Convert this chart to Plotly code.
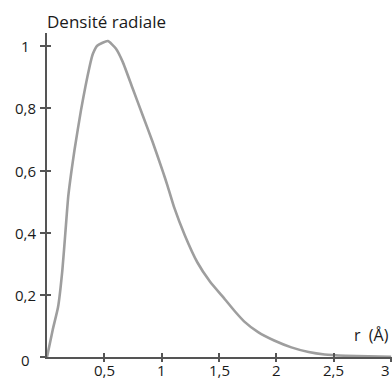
import plotly.graph_objects as go

# Data
r_vals = [0, 0.05, 0.096, 0.134, 0.16, 0.185, 0.21, 0.24, 0.296, 0.37, 0.40, 0.44, 0.53,
          0.60, 0.66, 0.746, 0.833, 0.92, 1.01, 1.05, 1.11, 1.20, 1.31, 1.42, 1.55, 1.635,
          1.72, 1.84, 1.98, 2.13, 2.28, 2.42, 2.6, 2.8, 3.0]
density = [0, 0.088, 0.16, 0.28, 0.40, 0.516, 0.59, 0.667, 0.794, 0.933, 0.976, 1.003, 1.017,
           0.993, 0.95, 0.865, 0.779, 0.693, 0.597, 0.552, 0.48, 0.393, 0.305, 0.243, 0.186, 0.148,
           0.114, 0.08, 0.053, 0.031, 0.016, 0.008, 0.004, 0.002, 0.001]

x_tickvals = [0.5, 1, 1.5, 2, 2.5, 3]
x_ticktext = ["0,5", "1", "1,5", "2", "2,5", "3"]
y_tickvals = [0, 0.2, 0.4, 0.6, 0.8, 1]
y_ticktext = ["0", "0,2", "0,4", "0,6", "0,8", "1"]

title_text = "Densité radiale"
x_label = "r  (Å)"

FONT = "Open Sans"
AXIS_COL = "#555555"
TXT = "#1a1a1a"
XR = [0, 3.007]
YR = [0, 1.043]

fig = go.Figure()
fig.add_trace(go.Scatter(x=r_vals, y=density, mode="lines",
                         line=dict(color="#9e9e9e", width=2.6, shape="spline", smoothing=0.5),
                         hoverinfo="skip", showlegend=False, cliponaxis=False))
# invisible trace for overlay axes (inner half of crossing ticks)
fig.add_trace(go.Scatter(x=[None], y=[None], xaxis="x2", yaxis="y2", showlegend=False,
                         hoverinfo="skip"))

fig.update_layout(
    width=392, height=379,
    margin=dict(l=47, r=0, t=33, b=22),
    paper_bgcolor="white", plot_bgcolor="white",
    font=dict(family=FONT, size=15, color=TXT),
    xaxis=dict(range=XR, showgrid=False, zeroline=False, showline=True, linecolor=AXIS_COL,
               linewidth=2, ticks="outside", ticklen=3, tickwidth=1.5, tickcolor=AXIS_COL,
               tickvals=x_tickvals, showticklabels=False, automargin=False, fixedrange=True),
    yaxis=dict(range=YR, showgrid=False, zeroline=False, showline=True, linecolor=AXIS_COL,
               linewidth=2, ticks="outside", ticklen=5, tickwidth=1.5, tickcolor=AXIS_COL,
               tickvals=y_tickvals, showticklabels=False, automargin=False, fixedrange=True),
    xaxis2=dict(range=XR, overlaying="x", anchor="y", showgrid=False, zeroline=False,
                showline=False, ticks="inside", ticklen=4, tickwidth=1.5, tickcolor=AXIS_COL,
                tickvals=x_tickvals, showticklabels=False, automargin=False, fixedrange=True),
    yaxis2=dict(range=YR, overlaying="y", anchor="x", showgrid=False, zeroline=False,
                showline=False, ticks="inside", ticklen=4, tickwidth=1.5, tickcolor=AXIS_COL,
                tickvals=y_tickvals[1:], showticklabels=False, automargin=False, fixedrange=True),
)

# y tick labels centred left of the axis
for v, t in zip(y_tickvals, y_ticktext):
    fig.add_annotation(x=-0.061, y=v, yshift=-3 if v == 0 else 0, xref="paper", yref="y",
                       text=t, showarrow=False, xanchor="center", yanchor="middle",
                       font=dict(family=FONT, size=15, color=TXT))
# x tick labels just below the axis (last one kept inside the page edge)
for v, t in zip(x_tickvals, x_ticktext):
    last = v == x_tickvals[-1]
    fig.add_annotation(x=1.0 if last else v, y=-0.04, xref="paper" if last else "x",
                       yref="paper", text=t, showarrow=False,
                       xanchor="right" if last else "center", yanchor="middle",
                       font=dict(family=FONT, size=15, color=TXT))

fig.add_annotation(x=-0.006, y=1.037, xref="paper", yref="paper", text=title_text,
                   showarrow=False, xanchor="left", yanchor="middle",
                   font=dict(family=FONT, size=17, color=TXT))
fig.add_annotation(x=3.0, y=0.072, xref="x", yref="y", text=x_label, showarrow=False,
                   xanchor="right", yanchor="middle", font=dict(family=FONT, size=16, color=TXT))

fig.write_html("out.html")
